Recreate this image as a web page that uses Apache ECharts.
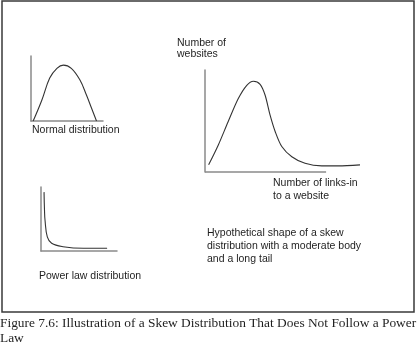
<!DOCTYPE html>
<html><head><meta charset="utf-8">
<script src="https://cdn.jsdelivr.net/npm/echarts@6/dist/echarts.min.js"></script>
<style>html,body{margin:0;padding:0;background:#fff}#c{width:420px;height:357px}</style>
</head><body><div id="c"></div>
<script>
// Curve values (arbitrary units, 0-100 scales)
var normalX = [3, 15, 26, 36, 45, 56, 68, 77, 84, 91];
var normalY = [0, 32, 66, 81, 86, 81, 63, 40, 20, 0];
var skewX = [3, 11, 19, 27.5, 34.5, 40, 45.5, 49.6, 53.7, 58, 63.4, 71.7, 82.6, 96.4, 110, 128];
var skewY = [7, 26.5, 49, 72, 85, 89, 86, 75.5, 56, 39.5, 25, 15, 8.5, 6, 6, 7];
var skewAxisEnd = 100;
var powerX = [4, 4.6, 5.3, 8.3, 14, 29, 56, 87];
var powerY = [92, 64, 48, 22, 12, 6.7, 4.2, 4.2];
var labelNormal = ['Normal distribution'];
var labelPower = ['Power law distribution'];
var labelYSkew = ['Number of', 'websites'];
var labelXSkew = ['Number of links-in', 'to a website'];
var labelNote = ['Hypothetical shape of a skew', 'distribution with a moderate body', 'and a long tail'];
var caption = ['Figure 7.6: Illustration of a Skew Distribution That Does Not Follow a Power', 'Law'];

function pairs(xs, ys){ return xs.map(function(x,i){return [x, ys[i]];}); }

var axisColor = '#8a8a8a';
var axisStyle = {show:true, onZero:true, lineStyle:{color:axisColor, width:1.5}};
function mkX(i, max, showLine){ return {type:'value', gridIndex:i, min:0, max:max, axisLine:showLine ? axisStyle : {show:false}, axisTick:{show:false}, axisLabel:{show:false}, splitLine:{show:false}}; }
function mkY(i){ return {type:'value', gridIndex:i, min:0, max:100, axisLine:axisStyle, axisTick:{show:false}, axisLabel:{show:false}, splitLine:{show:false}}; }
function mkS(i, data, smooth){ return {type:'line', xAxisIndex:i, yAxisIndex:i, data:data, showSymbol:false, symbol:'none', smooth:smooth, clip:false, lineStyle:{color:'#333', width:1.1}, silent:true}; }

var sans = '10.5px "Liberation Sans", Arial, sans-serif';
var txtColor = '#1e1e1e';
var graphics = [
  {type:'rect', shape:{x:2, y:1, width:412, height:311}, style:{fill:'none', stroke:'#3a3a3a', lineWidth:1.5}, silent:true}
];
function addLines(lines, x, y0, dy, font){
  lines.forEach(function(t, k){
    graphics.push({type:'text', x:x, y:y0 + k*dy, style:{text:t, font:font, fill:txtColor, verticalAlign:'middle', align:'left'}, silent:true});
  });
}
addLines(labelNormal, 32, 130, 13, sans);
addLines(labelPower, 39, 276, 13, sans);
addLines(labelYSkew, 177, 43, 11.5, sans);
addLines(labelXSkew, 273, 183, 13, sans);
addLines(labelNote, 207, 233, 13, sans);
addLines(caption, 0, 323, 15, '13.4px "Liberation Serif", "DejaVu Serif", serif');

var skewSeries = mkS(1, pairs(skewX, skewY), 0.3);
skewSeries.markLine = {silent:true, symbol:['none','none'], label:{show:false},
  lineStyle:{color:axisColor, width:1.5, type:'solid'},
  data:[[{coord:[0,0]},{coord:[skewAxisEnd,0]}]]};

var chart = echarts.init(document.getElementById('c'), null, {renderer:'canvas'});
chart.setOption({
  animation:false,
  backgroundColor:'#fff',
  grid:[
    {left:31, top:56, width:72, height:65},
    {left:205, top:70, width:155, height:102},
    {left:41, top:187, width:76, height:64}
  ],
  xAxis:[mkX(0,100,true), mkX(1,128,false), mkX(2,100,true)],
  yAxis:[mkY(0), mkY(1), mkY(2)],
  series:[
    mkS(0, pairs(normalX, normalY), 0.4),
    skewSeries,
    mkS(2, pairs(powerX, powerY), 0.4)
  ],
  graphic: graphics
});
</script></body></html>
